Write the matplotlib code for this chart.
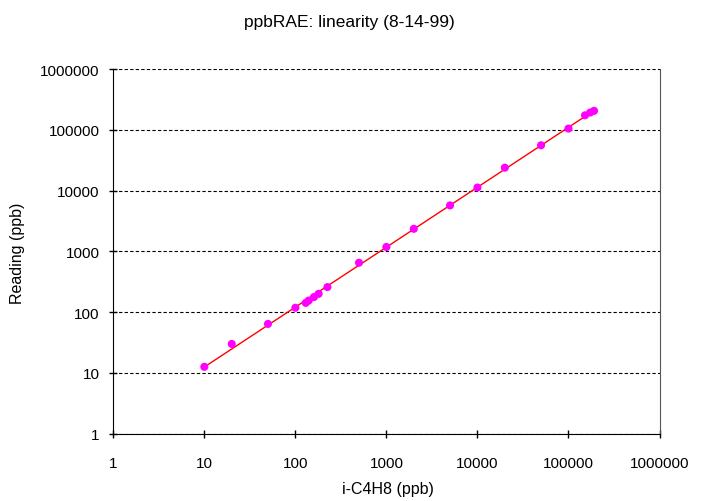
import numpy as np
import matplotlib.pyplot as plt
from matplotlib.ticker import FixedLocator, FixedFormatter, NullLocator

plt.rcParams['font.family'] = ['Liberation Sans', 'DejaVu Sans']

# concentration of i-C4H8 (ppb) and instrument reading (ppb)
conc = [10, 20, 50, 100, 130, 140, 160, 180, 225,
        500, 1000, 2000, 5000, 10000, 20000, 50000, 100000,
        152000, 173000, 191000]
reading = [12.6, 30, 64, 118, 142, 155, 177, 200, 258,
           650, 1180, 2350, 5700, 11200, 23800, 55600, 104700,
           173000, 192000, 205000]

tick_vals = [1, 10, 100, 1000, 10000, 100000, 1000000]
tick_labels = ['1', '10', '100', '1000', '10000', '100000', '1000000']

# power trendline (fit in log-log space)
b, a = np.polyfit(np.log10(conc), np.log10(reading), 1)
xfit = np.array([min(conc), max(conc)])
yfit = 10 ** (a + b * np.log10(xfit))

fig = plt.figure(figsize=(7.05, 5.02), dpi=100)
ax = fig.add_axes([113.3 / 705, 1 - 434.7 / 502, 546.2 / 705, 364.7 / 502])

ax.plot(xfit, yfit, color='red', lw=1, zorder=2)
ax.scatter(conc, reading, s=34, color='#FF00FF', edgecolors='none', zorder=3)

ax.set_xscale('log')
ax.set_yscale('log')
ax.set_xlim(1, 1e6)
ax.set_ylim(1, 1e6)
for axis in (ax.xaxis, ax.yaxis):
    axis.set_major_locator(FixedLocator(tick_vals))
    axis.set_major_formatter(FixedFormatter(tick_labels))
    axis.set_minor_locator(NullLocator())

ax.grid(axis='y', color='black', linestyle=(0, (3, 2)), lw=0.8)
ax.tick_params(direction='inout', length=6, width=1, labelsize=11)
ax.tick_params(axis='x', pad=13)
ax.tick_params(axis='y', pad=7)

ax.spines['top'].set_visible(False)
ax.spines['right'].set_color('#555555')
ax.spines['left'].set_color('black')
ax.spines['bottom'].set_color('black')

fig.text(388 / 705, 1 - 490 / 502, 'i-C4H8 (ppb)', ha='center', va='center', fontsize=11.5)
fig.text(18 / 705, 1 - 253 / 502, 'Reading (ppb)', ha='center', va='center',
         rotation=90, fontsize=11.5)
fig.text(349 / 705, 1 - 22 / 502, 'ppbRAE: linearity (8-14-99)', ha='center', va='center',
         fontsize=12.5)

fig.savefig('out.png', dpi=100)
